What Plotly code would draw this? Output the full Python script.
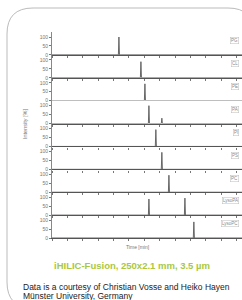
import plotly.graph_objects as go
from plotly.subplots import make_subplots

# ---------------- data ----------------
panel_labels = ["PG", "CL", "PE", "PA", "PI", "PS", "PC", "LysoPA", "LysoPC"]
peak_times = [[4.35], [5.78], [6.04], [6.30, 7.14], [6.75], [7.14], [7.60], [6.30, 8.64], [9.22]]
peak_heights = [[100], [90], [94], [100, 30], [94], [95], [95], [90, 95], [90]]
time_range = [0, 12.35]
y_tick_vals = [0, 50, 100]
y_tick_text = ["0", "50", "100"]
title_text = "iHILIC-Fusion, 250x2.1 mm, 3.5 µm"
footer_lines = ["Data is a courtesy of Christian Vosse and Heiko Hayen",
                "Münster University, Germany"]
x_title = "Time [min]"
y_title = "Intensity [%]"

# ---------------- layout ----------------
W, H = 242, 300
ML, MR, MT, MB = 52, 0, 32, 62
PW, PH = W - ML - MR, H - MT - MB


def px(x):
    return (x - ML) / PW


def py(y):
    return (H - MB - y) / PH


n = len(panel_labels)
fig = make_subplots(rows=n, cols=1, shared_xaxes=True, vertical_spacing=0)

half_w = 0.035
for i in range(n):
    xs, ys = [time_range[0]], [0]
    for t, h in zip(peak_times[i], peak_heights[i]):
        xs += [t - half_w, t, t + half_w]
        ys += [0, h, 0]
    xs.append(time_range[1])
    ys.append(0)
    fig.add_trace(go.Scatter(x=xs, y=ys, mode="lines",
                             line=dict(color="#666666", width=1),
                             showlegend=False, hoverinfo="skip"),
                  row=i + 1, col=1)
    fig.update_xaxes(range=time_range, showline=True, linecolor="#555555", linewidth=1.4,
                     ticks="outside", ticklen=2, tickcolor="#777777", tickwidth=0.8,
                     dtick=1, tick0=0, showticklabels=False, showgrid=False, zeroline=False,
                     row=i + 1, col=1)
    fig.update_yaxes(range=[0, 128], tickvals=y_tick_vals, ticktext=y_tick_text,
                     ticks="outside", ticklen=2, tickcolor="#777777", tickwidth=0.8,
                     showline=True, linecolor="#888888", linewidth=0.8,
                     tickfont=dict(size=5, color="#777777", family="Liberation Sans"),
                     showgrid=False, zeroline=False, row=i + 1, col=1)
    yref = "y domain" if i == 0 else f"y{i + 1} domain"
    xref = "x domain" if i == 0 else f"x{i + 1} domain"
    fig.add_annotation(x=0.985, y=0.62, xref=xref, yref=yref, xanchor="right", yanchor="middle",
                       text=panel_labels[i], showarrow=False,
                       font=dict(size=4.5, color="#888888", family="Liberation Sans"),
                       bordercolor="#bbbbbb", borderwidth=0.5, borderpad=0.5, bgcolor="white")

# axis titles
fig.add_annotation(x=px(25), y=py(124), xref="paper", yref="paper", text=y_title,
                   textangle=-90, showarrow=False, xanchor="center", yanchor="middle",
                   font=dict(size=5.5, color="#777777", family="Liberation Sans"))
fig.add_annotation(x=px(138), y=py(247), xref="paper", yref="paper", text=x_title,
                   showarrow=False, xanchor="center", yanchor="middle",
                   font=dict(size=5, color="#777777", family="Liberation Sans"))

# title
fig.add_annotation(x=px(132), y=py(265), xref="paper", yref="paper", text="<b>" + title_text + "</b>",
                   showarrow=False, xanchor="center", yanchor="middle",
                   font=dict(size=9.5, color="#a9c83e", family="Liberation Sans"))

# footer
for k, line in enumerate(footer_lines):
    fig.add_annotation(x=px(21), y=py(287 + 8.5 * k), xref="paper", yref="paper", text=line,
                       showarrow=False, xanchor="left", yanchor="middle",
                       font=dict(size=8.5, color="#222222", family="Liberation Sans"))

# card border (rounded)
L, T, R, B, r = 7, 8, 254, 308, 26
path = (f"M {px(L)},{py(T + r)} Q {px(L)},{py(T)} {px(L + r)},{py(T)} "
        f"L {px(R - r)},{py(T)} Q {px(R)},{py(T)} {px(R)},{py(T + r)} "
        f"L {px(R)},{py(B - r)} Q {px(R)},{py(B)} {px(R - r)},{py(B)} "
        f"L {px(L + r)},{py(B)} Q {px(L)},{py(B)} {px(L)},{py(B - r)} Z")
fig.add_shape(type="path", path=path, xref="paper", yref="paper",
              line=dict(color="#bbbbbb", width=1), layer="below")

fig.update_layout(width=W, height=H, margin=dict(l=ML, r=MR, t=MT, b=MB, pad=0),
                  paper_bgcolor="white", plot_bgcolor="white", showlegend=False)

fig.write_html("out.html", config={"displayModeBar": False},
               post_script="document.body.style.margin='0';document.body.style.overflow='hidden';")
